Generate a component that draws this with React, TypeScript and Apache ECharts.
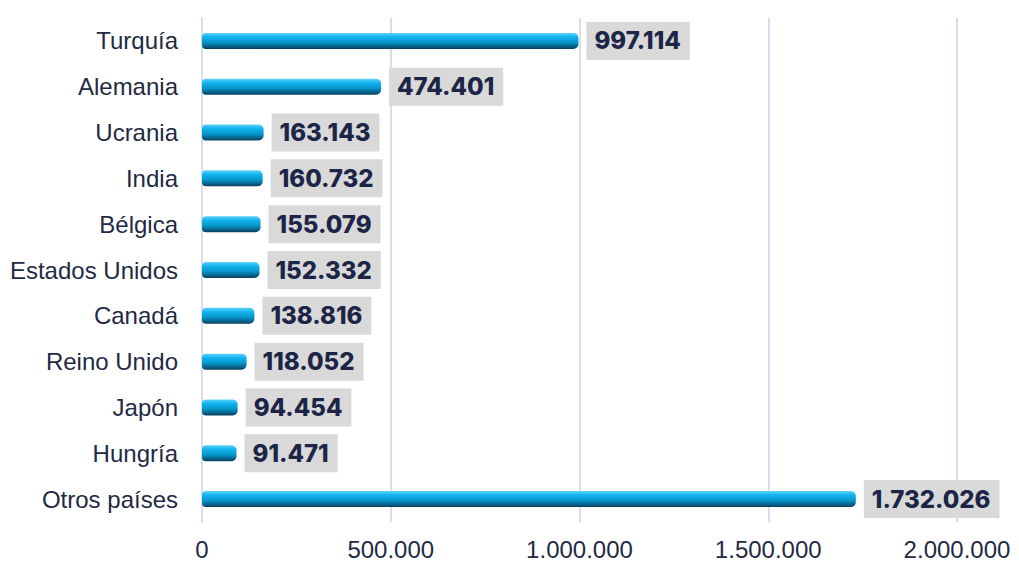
import React, { useEffect, useRef } from "react";
import * as echarts from "echarts";

const categories = ["Turquía", "Alemania", "Ucrania", "India", "Bélgica", "Estados Unidos", "Canadá", "Reino Unido", "Japón", "Hungría", "Otros países"];
const values = [997114, 474401, 163143, 160732, 155079, 152332, 138816, 118052, 94454, 91471, 1732026];
const xTicks = [0, 500000, 1000000, 1500000, 2000000];

const fmt = (v: number) => String(Math.round(v)).replace(/\B(?=(\d{3})+(?!\d))/g, ".");

export default function App() {
  const ref = useRef<HTMLDivElement>(null);
  useEffect(() => {
    const chart = echarts.init(ref.current!, null, { renderer: "svg" });
    chart.setOption({
      animation: false,
      grid: { left: 202, right: 62, top: 18, bottom: 41 },
      xAxis: {
        type: "value",
        min: xTicks[0],
        max: xTicks[xTicks.length - 1],
        interval: 500000,
        axisLine: { show: false },
        axisTick: { show: false },
        splitLine: { show: true, lineStyle: { color: "#d9dcef", width: 2 } },
        axisLabel: {
          formatter: (v: number) => fmt(v),
          color: "#1f2a44",
          fontFamily: "Liberation Sans, Arial",
          fontSize: 24,
          margin: 15,
        },
      },
      yAxis: {
        type: "category",
        data: categories,
        inverse: true,
        axisLine: { show: true, lineStyle: { color: "#d9dcef", width: 2 } },
        axisTick: { show: false },
        axisLabel: {
          color: "#1f2a44",
          fontFamily: "Liberation Sans, Arial",
          fontSize: 24,
          margin: 24,
        },
      },
      series: [
        {
          type: "bar",
          data: values,
          barWidth: 16,
          itemStyle: {
            borderRadius: [4, 5, 5, 4],
            color: new echarts.graphic.LinearGradient(0, 0, 0, 1, [
              { offset: 0, color: "#5fd3fb" },
              { offset: 0.25, color: "#12b4ee" },
              { offset: 0.6, color: "#0595c9" },
              { offset: 1, color: "#0b3f5c" },
            ]),
          },
          label: {
            show: true,
            position: "right",
            distance: 8,
            formatter: (p: any) => fmt(p.value),
            color: "#1d2547",
            fontFamily: "Inter",
            fontWeight: 800,
            fontSize: 24,
            letterSpacing: 1,
            backgroundColor: "#d9d9d9",
            padding: [7, 9, 7, 8],
          },
        },
      ],
    });
    return () => chart.dispose();
  }, []);
  return <div ref={ref} style={{ position: "absolute", left: 0, top: 0, width: 1019, height: 563, background: "#fff" }} />;
}
